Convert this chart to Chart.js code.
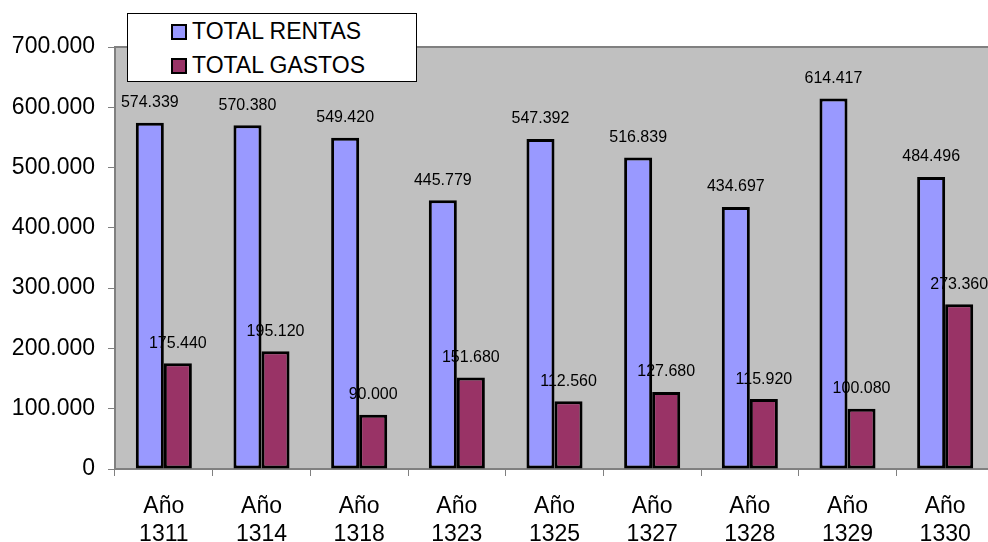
<!DOCTYPE html>
<html>
<head>
<meta charset="utf-8">
<script src="https://cdn.jsdelivr.net/npm/chart.js@4"></script>
<style>
  body { margin: 0; overflow: hidden; background: #fff; }
  #wrap { position: relative; width: 994px; height: 542px; }
  #legend {
    position: absolute; left: 127px; top: 13px; width: 288px; height: 67px;
    background: #fff; border: 1px solid #000; font-family: "Liberation Sans", Arial, sans-serif;
    font-size: 23px; color: #000;
  }
  .row { position: absolute; left: 43px; height: 30px; line-height: 30px; }
  .box { display: inline-block; width: 12px; height: 12px; border: 2px solid #000; margin-right: 5px; vertical-align: -1px; }
</style>
</head>
<body>
<div id="wrap">
  <canvas id="chart" width="994" height="542"></canvas>
  <div id="legend"></div>
</div>
<script>
// datos
const anios = ["1311", "1314", "1318", "1323", "1325", "1327", "1328", "1329", "1330"];
const totalRentas = [574339, 570380, 549420, 445779, 547392, 516839, 434697, 614417, 484496];
const totalGastos = [175440, 195120, 90000, 151680, 112560, 127680, 115920, 100080, 273360];
const yTicks = [0, 100000, 200000, 300000, 400000, 500000, 600000, 700000];

const fuente = '"Liberation Sans", Arial, sans-serif';

// formato con punto de miles
function formato(v) {
  return v.toString().replace(/\B(?=(\d{3})+(?!\d))/g, ".");
}

// fondo gris del area del grafico
const fondo = {
  id: "fondo",
  beforeDraw(chart) {
    const a = chart.chartArea;
    const ctx = chart.ctx;
    ctx.save();
    ctx.fillStyle = "#C0C0C0";
    ctx.fillRect(a.left, a.top, a.right - a.left, a.bottom - a.top);
    ctx.strokeStyle = "#808080";
    ctx.lineWidth = 2;
    ctx.beginPath();
    ctx.moveTo(a.left, a.top);
    ctx.lineTo(a.right, a.top);
    ctx.stroke();
    ctx.restore();
  }
};

// etiquetas encima de cada barra
const etiquetas = {
  id: "etiquetas",
  afterDatasetsDraw(chart) {
    const ctx = chart.ctx;
    ctx.save();
    ctx.font = "16px " + fuente;
    ctx.fillStyle = "#000";
    ctx.textAlign = "center";
    ctx.textBaseline = "middle";
    chart.data.datasets.forEach((ds, i) => {
      chart.getDatasetMeta(i).data.forEach((bar, j) => {
        ctx.fillText(formato(ds.data[j]), bar.x, bar.y - 20);
      });
    });
    ctx.restore();
  }
};

const chart = new Chart(document.getElementById("chart"), {
  type: "bar",
  data: {
    labels: anios.map(a => ["Año", a]),
    datasets: [
      {
        label: "TOTAL RENTAS",
        data: totalRentas,
        backgroundColor: "#9999FF",
        borderColor: "#000",
        borderWidth: 3,
        borderSkipped: false
      },
      {
        label: "TOTAL GASTOS",
        data: totalGastos,
        backgroundColor: "#993366",
        borderColor: "#000",
        borderWidth: 3,
        borderSkipped: false
      }
    ]
  },
  options: {
    responsive: false,
    animation: false,
    layout: { padding: { top: 47, right: 0, bottom: 0, left: 0 } },
    datasets: { bar: { categoryPercentage: 0.574, barPercentage: 1 } },
    plugins: { legend: { display: false }, tooltip: { enabled: false } },
    scales: {
      x: {
        grid: { drawOnChartArea: false, color: "#808080", tickLength: 7, lineWidth: 1 },
        border: { color: "#808080", width: 2 },
        ticks: { color: "#000", font: { family: fuente, size: 23, lineHeight: 1.2 }, padding: 17, maxRotation: 0 },
        afterFit(s) { s.height = 73; }
      },
      y: {
        min: 0,
        max: 700000,
        afterBuildTicks(s) { s.ticks = yTicks.map(v => ({ value: v })); },
        grid: { drawOnChartArea: false, color: "#808080", tickLength: 7, lineWidth: 1 },
        border: { color: "#808080", width: 2 },
        ticks: { color: "#000", font: { family: fuente, size: 23 }, padding: 13, callback: v => formato(v) },
        afterFit(s) { s.width = 115; }
      }
    }
  },
  plugins: [fondo, etiquetas]
});

// leyenda
const leyenda = document.getElementById("legend");
chart.data.datasets.forEach((ds, i) => {
  const row = document.createElement("div");
  row.className = "row";
  row.style.top = (2 + i * 34) + "px";
  row.innerHTML = '<span class="box" style="background:' + ds.backgroundColor + '"></span>' + ds.label;
  leyenda.appendChild(row);
});
</script>
</body>
</html>
